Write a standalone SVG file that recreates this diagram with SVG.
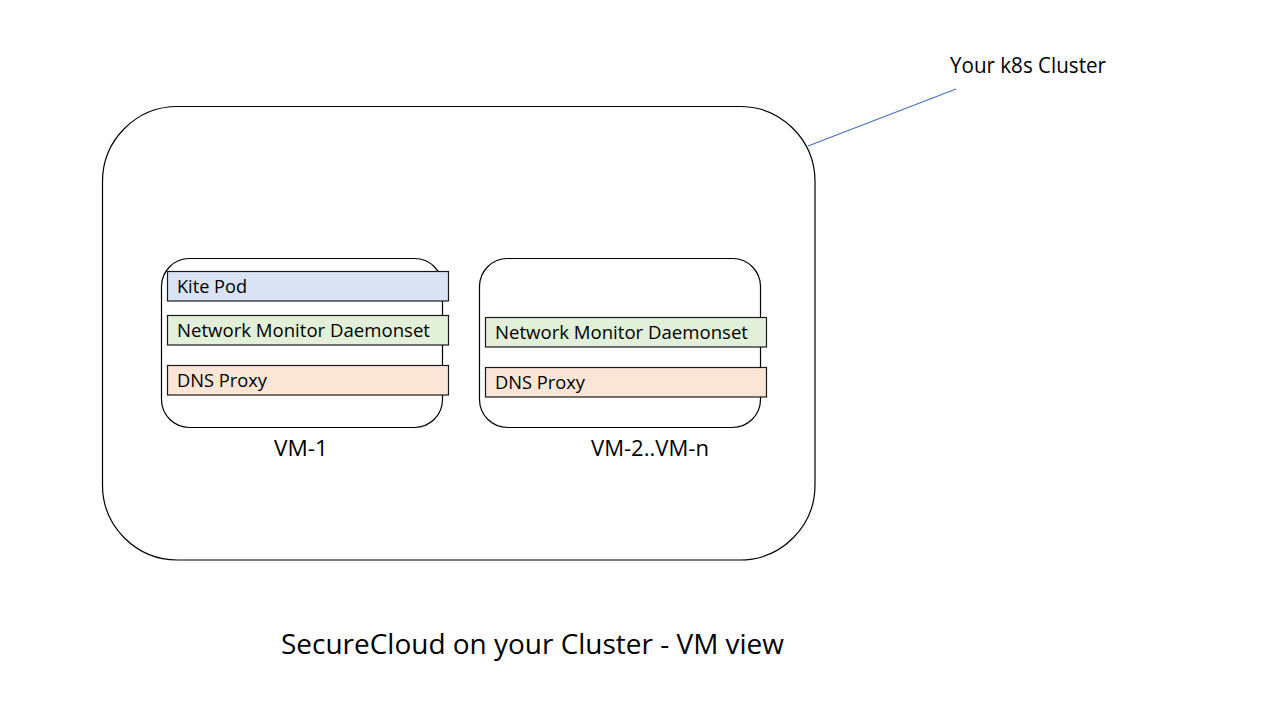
<svg xmlns="http://www.w3.org/2000/svg" width="1280" height="720" viewBox="0 0 1280 720">
<style>
.box{fill:#fff;stroke:#000;stroke-width:1.2}
.pod{stroke:#1a1a1a;stroke-width:1.2}
.kite{fill:#DAE3F3}
.nmd{fill:#E2F0D9}
.dns{fill:#FBE5D6}
text{font-family:"Open Sans","Liberation Sans",sans-serif;fill:#000}
.t{font-size:17.5px}
.l{font-size:21px}
</style>
<rect width="1280" height="720" fill="#fff"/>
<g id="connectors">
<line x1="808" y1="146" x2="956" y2="89" stroke="#4472C4" stroke-width="1.2"/>
</g>
<g id="cluster">
<rect class="box" x="102.5" y="106.5" width="712.5" height="453.5" rx="75" ry="75"/>
<text class="l" x="950" y="73" textLength="156" lengthAdjust="spacingAndGlyphs">Your k8s Cluster</text>
</g>
<g id="vm1">
<rect class="box" x="161.5" y="258.5" width="281" height="169" rx="28" ry="28"/>
<text class="l" x="274" y="456" textLength="54" lengthAdjust="spacingAndGlyphs">VM-1</text>
</g>
<g id="vm1-kite">
<rect class="pod kite" x="167.5" y="271.5" width="281" height="29.5"/>
<text class="t" x="177" y="293" textLength="70" lengthAdjust="spacingAndGlyphs">Kite Pod</text>
</g>
<g id="vm1-nmd">
<rect class="pod nmd" x="167.5" y="315.5" width="281" height="29.5"/>
<text class="t" x="177" y="337" textLength="253" lengthAdjust="spacingAndGlyphs">Network Monitor Daemonset</text>
</g>
<g id="vm1-dns">
<rect class="pod dns" x="167.5" y="365.5" width="281" height="29.5"/>
<text class="t" x="177" y="387" textLength="90" lengthAdjust="spacingAndGlyphs">DNS Proxy</text>
</g>
<g id="vm2">
<rect class="box" x="479.5" y="258.5" width="281" height="169" rx="28" ry="28"/>
<text class="l" x="591" y="456" textLength="118" lengthAdjust="spacingAndGlyphs">VM-2..VM-n</text>
</g>
<g id="vm2-nmd">
<rect class="pod nmd" x="485.5" y="317.5" width="281" height="29.5"/>
<text class="t" x="495" y="339" textLength="253" lengthAdjust="spacingAndGlyphs">Network Monitor Daemonset</text>
</g>
<g id="vm2-dns">
<rect class="pod dns" x="485.5" y="367.5" width="281" height="29.5"/>
<text class="t" x="495" y="389" textLength="90" lengthAdjust="spacingAndGlyphs">DNS Proxy</text>
</g>
<g id="title">
<text x="281" y="654" font-size="28" textLength="503" lengthAdjust="spacingAndGlyphs">SecureCloud on your Cluster - VM view</text>
</g>
</svg>
